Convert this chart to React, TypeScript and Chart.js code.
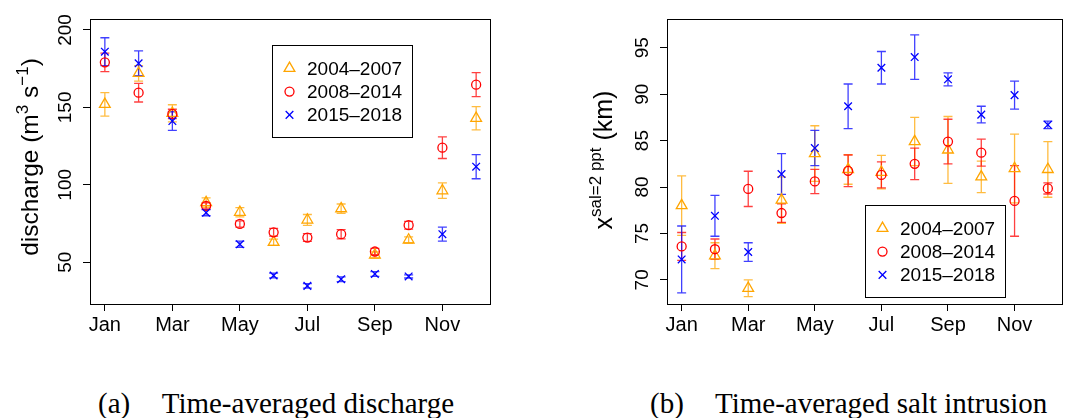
import React, { useEffect, useRef } from 'react';
import { Chart, registerables } from 'chart.js';

Chart.register(...registerables);

// ---------- data ----------
const monthNames = ['Jan', 'Feb', 'Mar', 'Apr', 'May', 'Jun', 'Jul', 'Aug', 'Sep', 'Oct', 'Nov', 'Dec'];
const monthIndex = [1, 2, 3, 4, 5, 6, 7, 8, 9, 10, 11, 12];
const xTickMonths = [1, 3, 5, 7, 9, 11];
const seriesLabels = ['2004–2007', '2008–2014', '2015–2018'];

// (a) discharge, m3/s
const dischargeTicks = [50, 100, 150, 200];
const discharge0407 = [152, 172, 146.2, 88.5, 82.3, 62.9, 77.3, 84.6, 54.7, 64.4, 96.2, 143];
const discharge0407Err = [7.6, 5, 5.5, 3, 3, 2, 3.5, 3, 2, 2, 5, 7.5];
const discharge0814 = [179.1, 159.5, 145.8, 86.4, 74.7, 69.3, 65.9, 68.1, 56.9, 73.9, 124, 164.7];
const discharge0814Err = [6, 6, 3, 2, 2, 2.5, 2.5, 3, 2, 2.5, 7, 7.7];
const discharge1518 = [186, 178.5, 141.2, 82, 61.6, 41.4, 34.7, 39, 42.4, 40.8, 68.1, 111.7];
const discharge1518Err = [9, 8, 6, 2, 2, 1.5, 1.5, 1.5, 1.5, 1, 4.5, 7.8];

// (b) salt intrusion, km
const saltTicks = [70, 75, 80, 85, 90, 95];
const salt0407 = [78.0, 72.6, 69.1, 78.6, 83.6, 81.9, 81.6, 84.9, 84.0, 81.1, 82.0, 81.9];
const salt0407Err = [3.2, 1.4, 0.9, 2.5, 3.0, 1.6, 1.8, 2.6, 3.6, 1.7, 3.7, 3.0];
const salt0814 = [73.6, 73.3, 79.8, 77.2, 80.6, 81.75, 81.3, 82.5, 84.9, 83.7, 78.5, 79.85];
const salt0814Err = [1.5, 1.1, 1.9, 1.0, 1.3, 1.7, 1.4, 1.7, 2.4, 1.45, 3.8, 0.6];
const salt1518 = [72.2, 76.9, 73.0, 81.4, 84.2, 88.7, 92.85, 94.0, 91.6, 87.8, 89.9, 86.7];
const salt1518Err = [3.6, 2.2, 1.0, 2.2, 1.9, 2.4, 1.75, 2.4, 0.7, 0.9, 1.5, 0.4];

// ---------- styles ----------
const COLORS = ['rgb(255,165,0)', 'rgb(255,0,0)', 'rgb(0,0,255)'];
const ERR_COLORS = ['rgba(255,165,0,0.75)', 'rgba(255,0,0,0.75)', 'rgba(0,0,255,0.75)'];
const STYLES = ['triangle', 'circle', 'crossRot'];
const RADII = [6.2, 4.5, 5.4];
const SANS = '"Liberation Sans", Arial, Helvetica, sans-serif';
const SERIF = '"Liberation Serif", "Times New Roman", serif';

type Seg = { t: string; size: number; rise: number };

function drawMarker(ctx: CanvasRenderingContext2D, style: string, x: number, y: number, r: number) {
  ctx.beginPath();
  if (style === 'triangle') {
    for (let k = 0; k < 3; k++) {
      const a = (k * 2 * Math.PI) / 3;
      const px = x + Math.sin(a) * r;
      const py = y - Math.cos(a) * r;
      if (k === 0) ctx.moveTo(px, py);
      else ctx.lineTo(px, py);
    }
    ctx.closePath();
  } else if (style === 'circle') {
    ctx.arc(x, y, r, 0, Math.PI * 2);
  } else {
    const d = Math.cos(Math.PI / 4) * r;
    ctx.moveTo(x - d, y - d);
    ctx.lineTo(x + d, y + d);
    ctx.moveTo(x - d, y + d);
    ctx.lineTo(x + d, y - d);
  }
  ctx.stroke();
}

const decorPlugin = {
  id: 'decor',
  beforeDatasetsDraw(chart: any, _args: any, opts: any) {
    const ctx: CanvasRenderingContext2D = chart.ctx;
    const xs = chart.scales.x;
    const ys = chart.scales.y;
    ctx.save();
    ctx.lineWidth = 1.3;
    chart.data.datasets.forEach((ds: any, i: number) => {
      ctx.strokeStyle = ERR_COLORS[i];
      ds.data.forEach((p: any, j: number) => {
        const e = ds.errors[j];
        const px = xs.getPixelForValue(p.x);
        const top = ys.getPixelForValue(p.y + e);
        const bot = ys.getPixelForValue(p.y - e);
        ctx.beginPath();
        ctx.moveTo(px, top);
        ctx.lineTo(px, bot);
        ctx.moveTo(px - 4.5, top);
        ctx.lineTo(px + 4.5, top);
        ctx.moveTo(px - 4.5, bot);
        ctx.lineTo(px + 4.5, bot);
        ctx.stroke();
      });
    });
    ctx.restore();
  },
  afterDraw(chart: any, _args: any, opts: any) {
    const ctx: CanvasRenderingContext2D = chart.ctx;
    const a = chart.chartArea;
    const ys = chart.scales.y;
    ctx.save();
    // box
    ctx.strokeStyle = '#000';
    ctx.lineWidth = 1;
    ctx.strokeRect(Math.round(a.left) + 0.5, Math.round(a.top) + 0.5, Math.round(a.right - a.left) - 1, Math.round(a.bottom - a.top));
    // y tick labels (rotated)
    ctx.fillStyle = '#000';
    ctx.font = `19px ${SANS}`;
    ctx.textAlign = 'center';
    ctx.textBaseline = 'middle';
    ys.ticks.forEach((t: any) => {
      const py = ys.getPixelForValue(t.value);
      ctx.save();
      ctx.translate(opts.yLabelX, py);
      ctx.rotate(-Math.PI / 2);
      ctx.fillText(String(t.value), 0, 1);
      ctx.restore();
    });
    // y title
    const segs: Seg[] = opts.title;
    ctx.textAlign = 'left';
    ctx.textBaseline = 'alphabetic';
    let total = 0;
    segs.forEach((s) => {
      ctx.font = `${s.size}px ${SANS}`;
      total += ctx.measureText(s.t).width;
    });
    ctx.save();
    ctx.translate(opts.titleX, opts.titleY);
    ctx.rotate(-Math.PI / 2);
    let cx = -total / 2;
    segs.forEach((s) => {
      ctx.font = `${s.size}px ${SANS}`;
      ctx.fillText(s.t, cx, -s.rise);
      cx += ctx.measureText(s.t).width;
    });
    ctx.restore();
    // legend
    const lx = opts.legendX;
    const ly = opts.legendY;
    ctx.lineWidth = 1;
    ctx.strokeStyle = '#000';
    ctx.strokeRect(lx + 0.5, ly + 0.5, 140, 92);
    ctx.font = `19px ${SANS}`;
    ctx.textBaseline = 'middle';
    ctx.textAlign = 'left';
    chart.data.datasets.forEach((ds: any, i: number) => {
      const yy = ly + 23.3 + i * 23.3;
      ctx.strokeStyle = COLORS[i];
      ctx.lineWidth = 1.3;
      drawMarker(ctx, STYLES[i], lx + 17.5, yy, RADII[i]);
      ctx.fillStyle = '#000';
      ctx.fillText(ds.label, lx + 35, yy + 1);
    });
    ctx.restore();
  },
};

type PanelProps = {
  series: number[][];
  errors: number[][];
  yMin: number;
  yMax: number;
  yTicks: number[];
  padLeft: number;
  padRight: number;
  yAxisWidth: number;
  decor: any;
};

function Panel(props: PanelProps) {
  const ref = useRef<HTMLCanvasElement | null>(null);
  useEffect(() => {
    if (!ref.current) return;
    const datasets = props.series.map((vals, i) => ({
      label: seriesLabels[i],
      data: vals.map((v, j) => ({ x: monthIndex[j], y: v })),
      errors: props.errors[i],
      showLine: false,
      pointStyle: STYLES[i],
      pointRadius: RADII[i],
      pointHoverRadius: RADII[i],
      pointBorderWidth: 1.3,
      pointBorderColor: COLORS[i],
      pointBackgroundColor: 'rgba(0,0,0,0)',
      borderColor: COLORS[i],
      backgroundColor: 'rgba(0,0,0,0)',
      order: 3 - i,
    }));
    const chart = new Chart(ref.current, {
      type: 'scatter',
      data: { datasets: datasets as any },
      options: {
        animation: false,
        responsive: false,
        devicePixelRatio: 1,
        events: [],
        layout: { padding: { left: props.padLeft, top: 19, right: props.padRight, bottom: 0 } },
        plugins: {
          legend: { display: false },
          tooltip: { enabled: false },
          decor: props.decor,
        } as any,
        scales: {
          x: {
            type: 'linear',
            min: 0.56,
            max: 12.44,
            afterBuildTicks: (s: any) => {
              s.ticks = xTickMonths.map((v) => ({ value: v }));
            },
            afterFit: (s: any) => {
              s.height = 36;
            },
            ticks: {
              color: '#000',
              font: { family: SANS, size: 20 },
              padding: 2,
              maxRotation: 0,
              autoSkip: false,
              callback: (v: any) => monthNames[Number(v) - 1],
            },
            grid: { display: true, drawOnChartArea: false, drawTicks: true, tickLength: 7, color: '#000', lineWidth: 1 },
            border: { display: false },
          },
          y: {
            type: 'linear',
            min: props.yMin,
            max: props.yMax,
            afterBuildTicks: (s: any) => {
              s.ticks = props.yTicks.map((v) => ({ value: v }));
            },
            afterFit: (s: any) => {
              s.width = props.yAxisWidth;
            },
            ticks: { display: false },
            grid: { display: true, drawOnChartArea: false, drawTicks: true, tickLength: 7, color: '#000', lineWidth: 1 },
            border: { display: false },
          },
        },
      },
      plugins: [decorPlugin],
    });
    return () => chart.destroy();
  }, []);
  return <canvas ref={ref} width={535} height={340} style={{ display: 'block', width: 535, height: 340 }} />;
}

function Caption(props: { tag: string; text: string; tagX: number; textX: number }) {
  const base: React.CSSProperties = {
    position: 'absolute',
    top: 388.5,
    fontFamily: SERIF,
    fontSize: 29,
    lineHeight: '29px',
    whiteSpace: 'nowrap',
    color: '#000',
  };
  return (
    <>
      <span style={{ ...base, left: props.tagX }}>{props.tag}</span>
      <span style={{ ...base, left: props.textX }}>{props.text}</span>
    </>
  );
}

export default function App() {
  return (
    <div style={{ position: 'fixed', left: 0, top: 0, width: 1070, height: 418, background: '#fff', overflow: 'hidden' }}>
      <div style={{ position: 'absolute', left: 0, top: 0 }}>
        <Panel
          series={[discharge0407, discharge0814, discharge1518]}
          errors={[discharge0407Err, discharge0814Err, discharge1518Err]}
          yMin={23}
          yMax={207.1}
          yTicks={dischargeTicks}
          padLeft={0}
          padRight={44}
          yAxisWidth={90}
          decor={{
            yLabelX: 65,
            titleX: 38,
            titleY: 157,
            title: [
              { t: 'discharge (m', size: 24.5, rise: 0 },
              { t: '3', size: 17, rise: 10 },
              { t: ' s', size: 24.5, rise: 0 },
              { t: '−1', size: 17, rise: 10 },
              { t: ')', size: 24.5, rise: 0 },
            ],
            legendX: 272,
            legendY: 45,
          }}
        />
      </div>
      <div style={{ position: 'absolute', left: 535, top: 0 }}>
        <Panel
          series={[salt0407, salt0814, salt1518]}
          errors={[salt0407Err, salt0814Err, salt1518Err]}
          yMin={67.4}
          yMax={98.1}
          yTicks={saltTicks}
          padLeft={0}
          padRight={2}
          yAxisWidth={132}
          decor={{
            yLabelX: 107,
            titleX: 77,
            titleY: 160,
            title: [
              { t: 'x', size: 25, rise: 0 },
              { t: 'sal=2 ppt', size: 17, rise: 11 },
              { t: ' (km)', size: 25, rise: 0 },
            ],
            legendX: 330,
            legendY: 205,
          }}
        />
      </div>
      <Caption tag="(a)" text="Time-averaged discharge" tagX={98} textX={161.7} />
      <Caption tag="(b)" text="Time-averaged salt intrusion" tagX={650} textX={715} />
    </div>
  );
}
